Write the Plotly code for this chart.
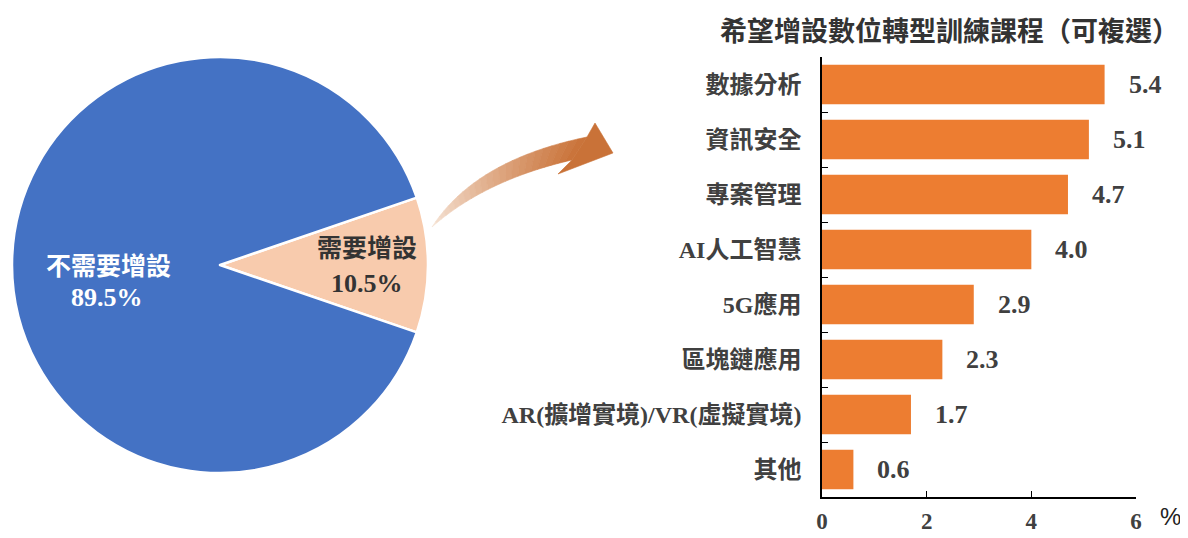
import plotly.graph_objects as go

# ---------------- data ----------------
pie_labels = ["需要增設", "不需要增設"]
pie_values = [10.5, 89.5]
pie_colors = ["#F8CBAD", "#4472C4"]

bar_categories = ["數據分析", "資訊安全", "專案管理", "AI人工智慧", "5G應用",
                  "區塊鏈應用", "AR(擴增實境)/VR(虛擬實境)", "其他"]
bar_values = [5.4, 5.1, 4.7, 4.0, 2.9, 2.3, 1.7, 0.6]
x_ticks = [0, 2, 4, 6]

title_text = "希望增設數位轉型訓練課程（可複選）"
unit_text = "%"

OFF = 8                      # page body margin of the html page
W, H = 1188 - OFF, 538 - OFF
FONT = "Liberation Serif, Noto Sans CJK TC"
DARK = "#404040"


def px(x, y):
    """screen pixel -> paper coordinates"""
    return (x - OFF) / W, 1 - (y - OFF) / H


fig = go.Figure()

# ---------------- pie ----------------
cx, cy, r = 220, 265, 208
x0, y0 = px(cx - r, cy + r)
x1, y1 = px(cx + r, cy - r)
fig.add_trace(go.Pie(
    labels=pie_labels, values=pie_values, sort=False,
    direction="clockwise", rotation=90 - pie_values[0] * 3.6 / 2,
    marker=dict(colors=pie_colors, line=dict(color="white", width=2.5)),
    textinfo="none", hoverinfo="label+percent",
    domain=dict(x=[x0, x1], y=[y0, y1]),
    showlegend=False, automargin=False,
))

# ---------------- bars ----------------
fig.add_trace(go.Bar(
    x=bar_values, y=bar_categories, orientation="h",
    marker=dict(color="#ED7D31", line=dict(width=0)),
    xaxis="x", yaxis="y", showlegend=False,
))

ann = []
for c, v in zip(bar_categories, bar_values):
    ann.append(dict(x=v, y=c, xref="x", yref="y", text=f"{v:.1f}",
                    xanchor="left", yanchor="middle", xshift=22, showarrow=False,
                    font=dict(family=FONT, size=26, color=DARK, weight=700)))

# pie labels
pie_label_pos = {"需要增設": ((367, 246), (367, 283), "#333333"),
                 "不需要增設": ((108, 264), (107, 297), "#FFFFFF")}
for lab, val in zip(pie_labels, pie_values):
    (lx, ly), (vx, vy), col = pie_label_pos[lab]
    ax_, ay_ = px(lx, ly)
    bx_, by_ = px(vx, vy)
    ann.append(dict(x=ax_, y=ay_, xref="paper", yref="paper", text=lab,
                    showarrow=False, xanchor="center", yanchor="middle",
                    font=dict(family="Noto Sans CJK TC", size=25, color=col, weight=700)))
    ann.append(dict(x=bx_, y=by_, xref="paper", yref="paper", text=f"{val:.1f}%",
                    showarrow=False, xanchor="center", yanchor="middle",
                    font=dict(family=FONT, size=26, color=col, weight=700)))

tx, ty = px(949, 30)
ann.append(dict(x=tx, y=ty, xref="paper", yref="paper", text=title_text,
                showarrow=False, xanchor="center", yanchor="middle",
                font=dict(family="Noto Sans CJK TC", size=27, color="#333333", weight=700)))
ux, uy = px(1170, 516)
ann.append(dict(x=ux, y=uy, xref="paper", yref="paper", text=unit_text,
                showarrow=False, xanchor="center", yanchor="middle",
                font=dict(family="Liberation Sans", size=24, color="#222222")))

# ---------------- curved gradient arrow (decoration) ----------------
def qb(p0, p1, p2, t):
    return ((1 - t) ** 2 * p0[0] + 2 * (1 - t) * t * p1[0] + t ** 2 * p2[0],
            (1 - t) ** 2 * p0[1] + 2 * (1 - t) * t * p1[1] + t ** 2 * p2[1])

U = [(432, 227), (475, 160), (587, 137)]
L = [(432, 227), (485, 180), (572, 160)]
c_start = (246, 228, 214)
c_end = (201, 114, 56)
shapes = []
N = 24
for i in range(N):
    t0, t1 = i / N, (i + 1.02) / N
    t1 = min(t1, 1.0)
    pts = [qb(*U, t0), qb(*U, t1), qb(*L, t1), qb(*L, t0)]
    tm = (i + 0.5) / N
    col = tuple(int(round(a + (b - a) * tm)) for a, b in zip(c_start, c_end))
    colstr = f"rgb{col}"
    path = "M " + " L ".join(f"{px(a, b)[0]:.5f},{px(a, b)[1]:.5f}" for a, b in pts) + " Z"
    shapes.append(dict(type="path", path=path, xref="paper", yref="paper",
                       fillcolor=colstr, line=dict(color=colstr, width=0.6), layer="above"))
head = [(587, 137), (595, 123), (613, 153), (558, 174), (572, 160)]
path = "M " + " L ".join(f"{px(a, b)[0]:.5f},{px(a, b)[1]:.5f}" for a, b in head) + " Z"
shapes.append(dict(type="path", path=path, xref="paper", yref="paper",
                   fillcolor="rgb(201,114,56)", line=dict(color="rgb(201,114,56)", width=0.6),
                   layer="above"))

bx0, _ = px(822, 0)
bx1, _ = px(1136, 0)
_, by0 = px(0, 497)
_, by1 = px(0, 57)

fig.update_layout(
    width=W, height=H, margin=dict(l=0, r=0, t=0, b=0, autoexpand=False),
    paper_bgcolor="white", plot_bgcolor="white",
    bargap=0.28, showlegend=False,
    xaxis=dict(domain=[bx0, bx1], range=[0, 6], tickvals=x_ticks,
               ticks="inside", ticklen=6, tickcolor="black", tickwidth=1.3,
               showline=True, linecolor="black", linewidth=1.5, showgrid=False,
               zeroline=False, ticklabelstandoff=3, automargin=False,
               tickfont=dict(family=FONT, size=23, color=DARK, weight=700),
               anchor="y", fixedrange=True),
    yaxis=dict(domain=[by0, by1], autorange="reversed", type="category",
               ticks="inside", tickson="boundaries", ticklen=6, tickcolor="black",
               tickwidth=1.3, showline=True, linecolor="black", linewidth=1.5,
               showgrid=False, ticklabelstandoff=14, automargin=False,
               tickfont=dict(family=FONT, size=24, color=DARK, weight=700),
               anchor="x", fixedrange=True),
    annotations=ann, shapes=shapes,
)

fig.write_html("out.html")
